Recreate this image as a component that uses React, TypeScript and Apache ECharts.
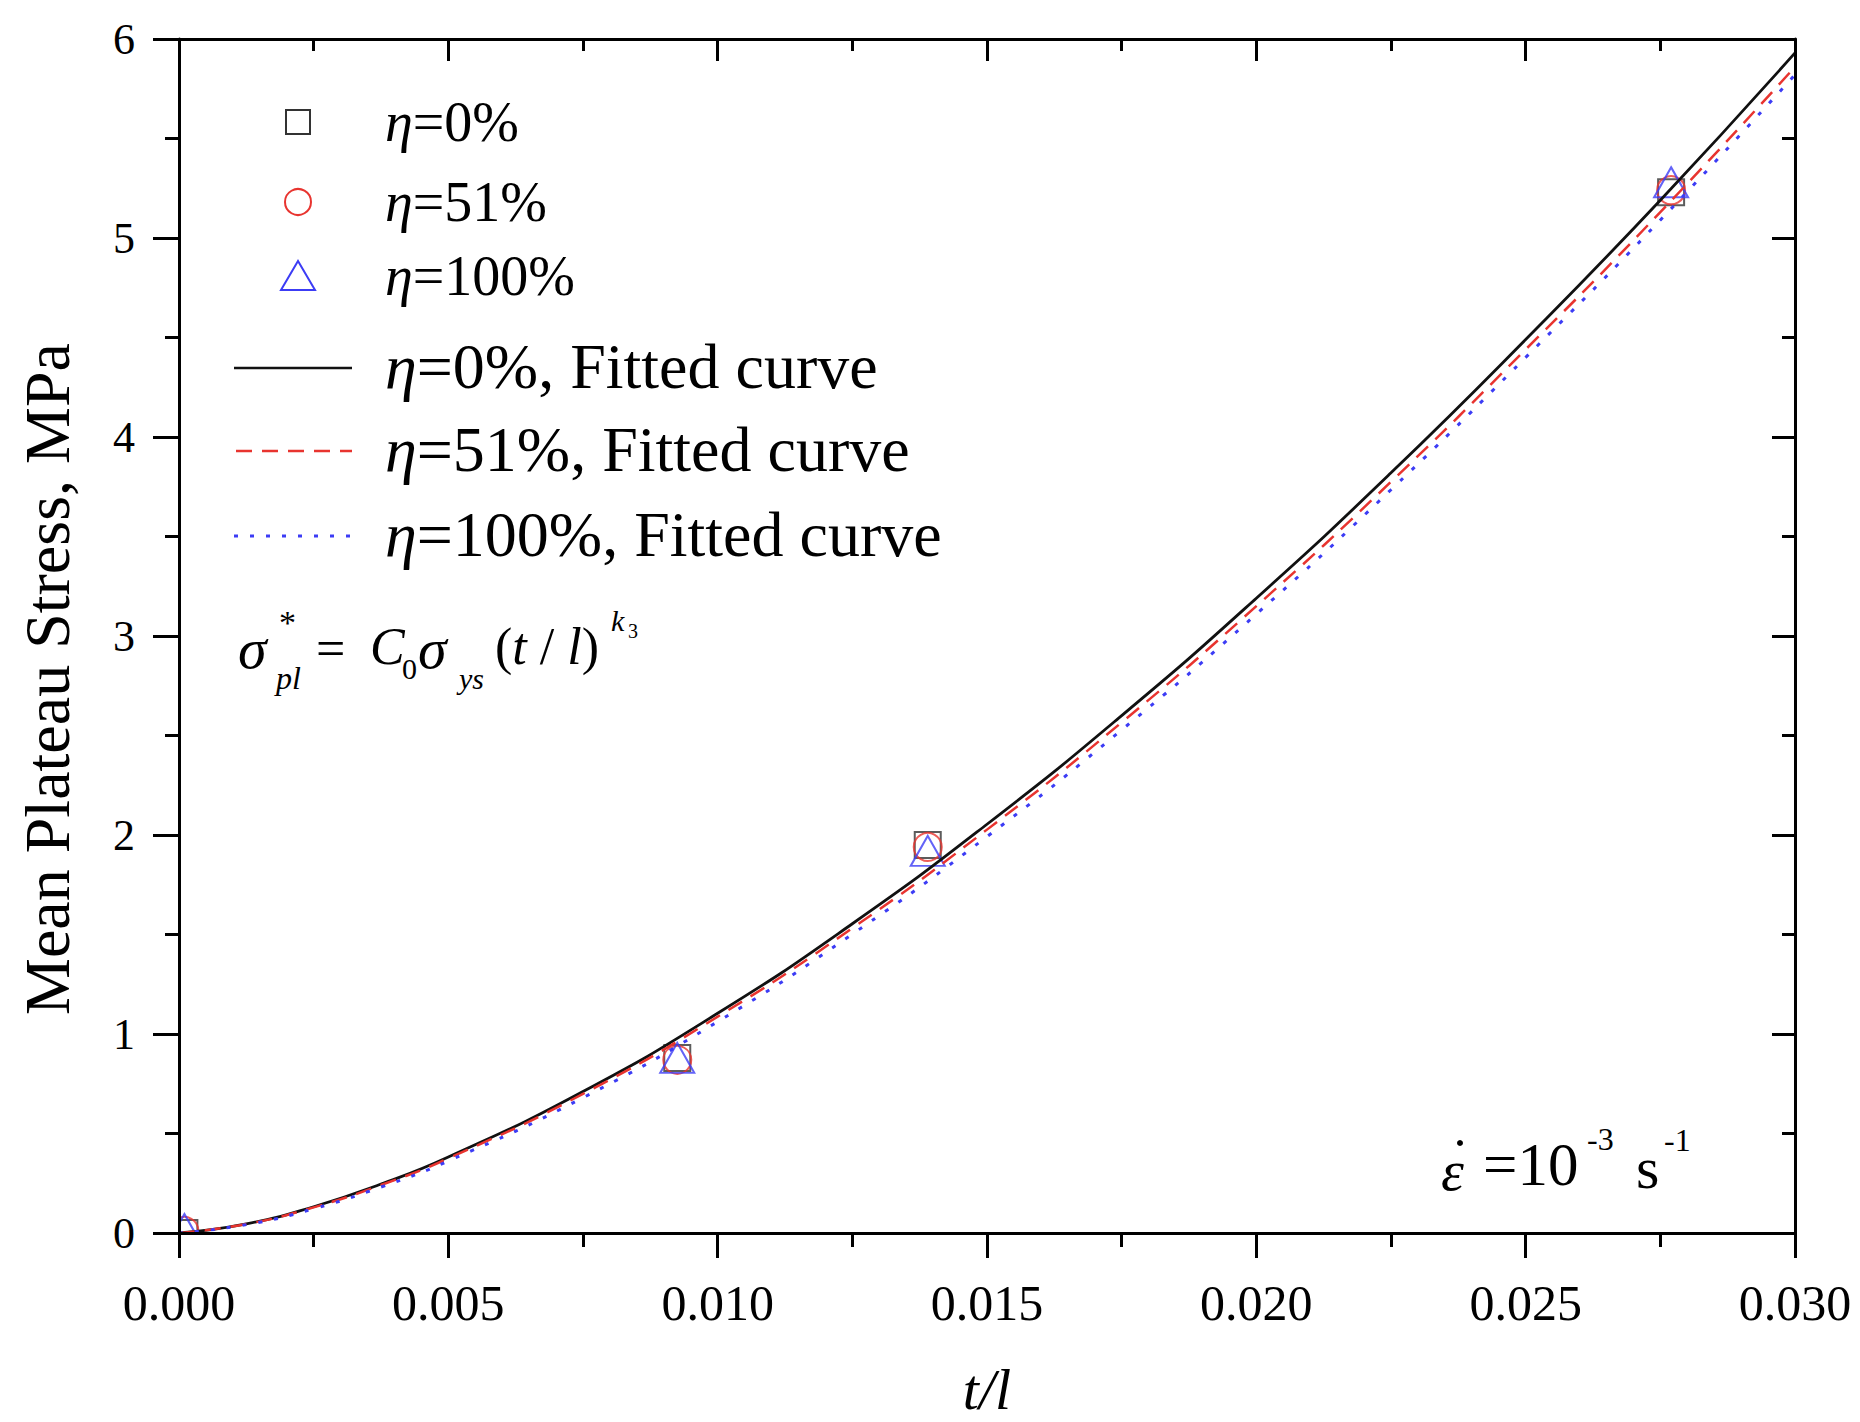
import React, { useEffect, useRef } from "react";
import * as echarts from "echarts";

// ---- data ----
const expT = [0.0001, 0.00925, 0.0139, 0.0277];
const eta0Stress = [0.0, 0.88, 1.95, 5.23];
const eta51Stress = [0.01, 0.87, 1.94, 5.24];
const eta100Stress = [0.02, 0.88, 1.92, 5.28];

const fitT = [0, 0.00125, 0.0025, 0.00375, 0.005, 0.0075, 0.01, 0.0125, 0.015, 0.0175, 0.02, 0.0225, 0.025, 0.0275, 0.03];
const fit0 = [0, 0.046, 0.132, 0.246, 0.382, 0.711, 1.104, 1.554, 2.054, 2.6, 3.19, 3.82, 4.49, 5.19, 5.93];
const fit51 = [0, 0.045, 0.129, 0.241, 0.375, 0.699, 1.087, 1.532, 2.027, 2.566, 3.15, 3.775, 4.44, 5.13, 5.86];
const fit100 = [0, 0.042, 0.122, 0.231, 0.362, 0.68, 1.062, 1.502, 1.992, 2.528, 3.11, 3.735, 4.4, 5.09, 5.82];

const xTickLabels = ["0.000", "0.005", "0.010", "0.015", "0.020", "0.025", "0.030"];
const yTickLabels = ["0", "1", "2", "3", "4", "5", "6"];

const legendMarkerNames = ["=0%", "=51%", "=100%"];
const legendLineNames = ["=0%, Fitted curve", "=51%, Fitted curve", "=100%, Fitted curve"];

const FONT = "'Liberation Serif', 'Times New Roman', serif";
const BLACK = "#111111";
const RED = "#e8342f";
const BLUE = "#3c3cf5";

function pairs(xs: number[], ys: number[]) {
  return xs.map((x, i) => [x, ys[i]]);
}

export default function App() {
  const ref = useRef<HTMLDivElement>(null);
  useEffect(() => {
    if (!ref.current) return;
    const chart = echarts.init(ref.current, undefined, { renderer: "svg" });
    const gridL = 179, gridT = 39, gridR = 65, gridB = 189;

    const axisLine = { show: true, onZero: false, lineStyle: { color: "#000", width: 3 } };
    const xAxisBase = {
      type: "value" as const,
      min: 0,
      max: 0.03,
      interval: 0.005,
      splitLine: { show: false },
      axisLine,
      z: 10,
    };
    const yAxisBase = {
      type: "value" as const,
      min: 0,
      max: 6,
      interval: 1,
      splitLine: { show: false },
      axisLine,
      z: 10,
    };

    const legendTexts: any[] = [];
    const markerRowsY = [122, 202, 276];
    const lineRowsY = [366, 449, 534];
    legendMarkerNames.forEach((n, i) => {
      legendTexts.push({
        type: "text",
        x: 385,
        y: markerRowsY[i],
        z: 20,
        style: {
          text: "{i|η}" + n,
          font: `56px ${FONT}`,
          fill: "#000",
          verticalAlign: "middle",
          align: "left",
          rich: { i: { fontStyle: "italic", fontSize: 56, fontFamily: FONT } },
        },
      });
    });
    legendLineNames.forEach((n, i) => {
      legendTexts.push({
        type: "text",
        x: 385,
        y: lineRowsY[i],
        z: 20,
        style: {
          text: "{i|η}" + n,
          font: `64px ${FONT}`,
          fill: "#000",
          verticalAlign: "middle",
          align: "left",
          rich: { i: { fontStyle: "italic", fontSize: 64, fontFamily: FONT } },
        },
      });
    });

    const t = (text: string, x: number, y: number, size: number, italic = false, extra: any = {}) => ({
      type: "text",
      x,
      y,
      z: 20,
      style: {
        text,
        font: `${italic ? "italic " : ""}${size}px ${FONT}`,
        fill: "#000",
        verticalAlign: "middle",
        align: "left",
        ...extra,
      },
    });

    const graphic: any[] = [
      // masks outside plotting area (hide symbol parts beyond the frame)
      { type: "rect", z: 5, shape: { x: 0, y: 0, width: gridL, height: 1422 }, style: { fill: "#fff" } },
      { type: "rect", z: 5, shape: { x: 0, y: 1422 - gridB, width: 1860, height: gridB }, style: { fill: "#fff" } },
      // y axis title
      {
        type: "text",
        x: 47,
        y: 679,
        rotation: Math.PI / 2,
        z: 20,
        style: {
          text: "Mean Plateau Stress, MPa",
          font: `64px ${FONT}`,
          fill: "#000",
          align: "center",
          verticalAlign: "middle",
        },
      },
      // legend symbols
      { type: "rect", z: 20, shape: { x: 286, y: 110, width: 24, height: 24 }, style: { fill: "none", stroke: "#333", lineWidth: 2 } },
      { type: "circle", z: 20, shape: { cx: 298, cy: 202, r: 13 }, style: { fill: "none", stroke: RED, lineWidth: 2 } },
      { type: "polygon", z: 20, shape: { points: [[298, 261], [281, 290], [315, 290]] }, style: { fill: "none", stroke: BLUE, lineWidth: 2 } },
      { type: "line", z: 20, shape: { x1: 234, y1: 368, x2: 352, y2: 368 }, style: { stroke: BLACK, lineWidth: 2.5 } },
      { type: "line", z: 20, shape: { x1: 236, y1: 451, x2: 352, y2: 451 }, style: { stroke: RED, lineWidth: 2.5, lineDash: [16, 10] } },
      { type: "line", z: 20, shape: { x1: 234, y1: 536, x2: 354, y2: 536 }, style: { stroke: BLUE, lineWidth: 3, lineDash: [4, 12] } },
      ...legendTexts,
      // formula sigma*_pl = C0 sigma_ys (t/l)^k3
      t("σ", 238, 648, 58, true),
      t("*", 279, 622, 34),
      t("pl", 276, 678, 32, true),
      t("=", 316, 648, 52),
      t("C", 370, 646, 52, true),
      t("0", 402, 668, 30),
      t("σ", 418, 648, 58, true),
      t("ys", 459, 678, 30, true),
      {
        type: "text",
        x: 495,
        y: 646,
        z: 20,
        style: {
          text: "({i|t} / {i|l})",
          font: `52px ${FONT}`,
          fill: "#000",
          verticalAlign: "middle",
          align: "left",
          rich: { i: { fontStyle: "italic", fontSize: 52, fontFamily: FONT } },
        },
      },
      t("k", 611, 620, 30, true),
      t("3", 628, 631, 20),
      // strain rate annotation
      t("ε", 1441, 1170, 58, true),
      { type: "circle", z: 20, shape: { cx: 1460, cy: 1143, r: 3 }, style: { fill: "#000" } },
      t("=10", 1483, 1164, 61),
      t("-3", 1587, 1139, 32),
      t("s", 1636, 1168, 60),
      t("-1", 1664, 1140, 32),
    ];

    const option: any = {
      animation: false,
      backgroundColor: "#fff",
      grid: { left: gridL, right: gridR, top: gridT, bottom: gridB, containLabel: false, outerBoundsMode: "none" },
      xAxis: [
        {
          ...xAxisBase,
          position: "bottom",
          axisTick: { show: true, inside: false, length: 25, lineStyle: { width: 3, color: "#000" } },
          minorTick: { show: true, splitNumber: 2, length: 14, lineStyle: { width: 3, color: "#000" } },
          axisLabel: {
            show: true,
            margin: 45,
            fontSize: 50,
            fontFamily: FONT,
            color: "#000",
            formatter: (v: number) => xTickLabels[Math.round(v / 0.005)] ?? "",
          },
          name: "t/l",
          nameLocation: "middle",
          nameGap: 127,
          nameMoveOverlap: false,
          nameTextStyle: { fontSize: 58, fontStyle: "italic", fontFamily: FONT, color: "#000" },
        },
        {
          ...xAxisBase,
          position: "top",
          axisTick: { show: true, inside: true, length: 22, lineStyle: { width: 3, color: "#000" } },
          minorTick: { show: true, splitNumber: 2, length: 12, lineStyle: { width: 3, color: "#000" } },
          axisLabel: { show: false },
        },
      ],
      yAxis: [
        {
          ...yAxisBase,
          position: "left",
          axisTick: { show: true, inside: false, length: 26, lineStyle: { width: 3, color: "#000" } },
          minorTick: { show: true, splitNumber: 2, length: 14, lineStyle: { width: 3, color: "#000" } },
          axisLabel: {
            show: true,
            margin: 44,
            fontSize: 44,
            fontFamily: FONT,
            color: "#000",
            formatter: (v: number) => yTickLabels[Math.round(v)] ?? "",
          },
        },
        {
          ...yAxisBase,
          position: "right",
          axisTick: { show: true, inside: true, length: 23, lineStyle: { width: 3, color: "#000" } },
          minorTick: { show: true, splitNumber: 2, length: 13, lineStyle: { width: 3, color: "#000" } },
          axisLabel: { show: false },
        },
      ],
      graphic,
      series: [
        {
          name: "η=0%, Fitted curve",
          type: "line",
          data: pairs(fitT, fit0),
          smooth: true,
          showSymbol: false,
          lineStyle: { color: BLACK, width: 2.8 },
          z: 3,
        },
        {
          name: "η=51%, Fitted curve",
          type: "line",
          data: pairs(fitT, fit51),
          smooth: true,
          showSymbol: false,
          lineStyle: { color: RED, width: 2.5, type: [16, 10] },
          z: 3,
        },
        {
          name: "η=100%, Fitted curve",
          type: "line",
          data: pairs(fitT, fit100),
          smooth: true,
          showSymbol: false,
          lineStyle: { color: BLUE, width: 3, type: [4, 12] },
          z: 3,
        },
        {
          name: "η=0%",
          type: "scatter",
          data: pairs(expT, eta0Stress),
          symbol: "rect",
          symbolSize: 26,
          itemStyle: { color: "rgba(0,0,0,0)", borderColor: "#333", borderWidth: 2 },
          z: 2,
        },
        {
          name: "η=51%",
          type: "scatter",
          data: pairs(expT, eta51Stress),
          symbol: "circle",
          symbolSize: 28,
          itemStyle: { color: "rgba(0,0,0,0)", borderColor: RED, borderWidth: 2 },
          z: 2,
        },
        {
          name: "η=100%",
          type: "scatter",
          data: pairs(expT, eta100Stress),
          symbol: "triangle",
          symbolSize: [34, 30],
          itemStyle: { color: "rgba(0,0,0,0)", borderColor: BLUE, borderWidth: 2 },
          z: 2,
        },
      ],
    };
    chart.setOption(option);
    return () => chart.dispose();
  }, []);
  return <div ref={ref} style={{ position: "absolute", left: 0, top: 0, width: 1860, height: 1422 }} />;
}
